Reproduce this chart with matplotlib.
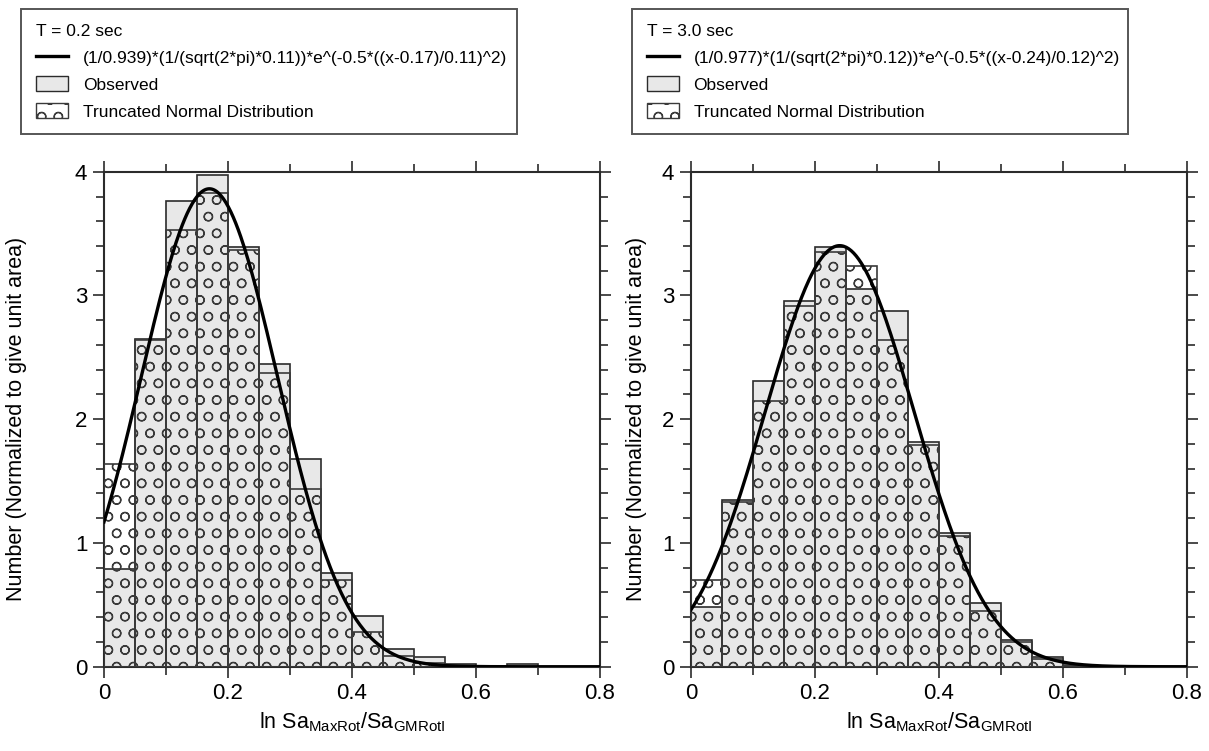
import numpy as np
import matplotlib
matplotlib.use('Agg')
import matplotlib.pyplot as plt
import matplotlib.hatch
from matplotlib.lines import Line2D
from matplotlib.patches import Patch
from matplotlib.ticker import MultipleLocator

# data
bin_edges = np.arange(0, 0.8001, 0.05)

obs_02 = [0.79, 2.65, 3.76, 3.97, 3.39, 2.45, 1.68, 0.755, 0.41, 0.145, 0.076, 0.02, 0.0, 0.02, 0.0, 0.0]
trunc_02 = [1.64, 2.64, 3.53, 3.83, 3.37, 2.37, 1.44, 0.70, 0.28, 0.087, 0.027, 0.006, 0.001, 0.0, 0.0, 0.0]

obs_30 = [0.485, 1.35, 2.31, 2.955, 3.394, 3.05, 2.877, 1.82, 1.083, 0.512, 0.22, 0.076, 0.01, 0.0, 0.0, 0.0]
trunc_30 = [0.70, 1.33, 2.15, 2.915, 3.35, 3.24, 2.64, 1.79, 1.056, 0.453, 0.20, 0.06, 0.015, 0.003, 0.0, 0.0]

# fitted curve parameters (norm, mu, sigma) as given in the legend
fit_02 = (0.939, 0.17, 0.11)
fit_30 = (0.977, 0.24, 0.12)

titles = ['T = 0.2 sec', 'T = 3.0 sec']
fit_labels = ['(1/0.939)*(1/(sqrt(2*pi)*0.11))*e^(-0.5*((x-0.17)/0.11)^2)',
              '(1/0.977)*(1/(sqrt(2*pi)*0.12))*e^(-0.5*((x-0.24)/0.12)^2)']

plt.rcParams['font.family'] = ['Liberation Sans', 'DejaVu Sans']
plt.rcParams['mathtext.default'] = 'regular'
plt.rcParams['hatch.linewidth'] = 0.9
matplotlib.hatch.SmallCircles.size = 0.26  # slightly bigger rings than default 'o'

DARK = '#2b2b2b'
GRAY = '#e8e8e8'

fig = plt.figure(figsize=(12.09, 7.51), dpi=100)
ax1 = fig.add_axes([0.0860, 0.1122, 0.4103, 0.6591])
ax2 = fig.add_axes([0.5715, 0.1122, 0.4100, 0.6591])

# axes, observed, truncated, fit, legend left (fig frac), ylabel x (axes frac)
panels = [(ax1, obs_02, trunc_02, fit_02, 0.0174, -0.155),
          (ax2, obs_30, trunc_30, fit_30, 0.5227, -0.089)]

for i, (ax, obs, trunc, fit, lx, ylx) in enumerate(panels):
    ax.bar(bin_edges[:-1], obs, width=0.05, align='edge', color=GRAY,
           edgecolor=DARK, linewidth=1.2, zorder=2)
    ax.bar(bin_edges[:-1], trunc, width=0.05, align='edge', fill=False,
           hatch='o', edgecolor='#3a3a3a', linewidth=1.2, zorder=3)

    k, mu, sig = fit
    x = np.linspace(0, 0.8, 400)
    y = (1 / k) * (1 / (np.sqrt(2 * np.pi) * sig)) * np.exp(-0.5 * ((x - mu) / sig) ** 2)
    ax.plot(x, y, color='black', linewidth=2.4, zorder=4)

    ax.set_xlim(0, 0.8)
    ax.set_ylim(0, 4)
    ax.xaxis.set_major_locator(MultipleLocator(0.2))
    ax.xaxis.set_minor_locator(MultipleLocator(0.1))
    ax.yaxis.set_major_locator(MultipleLocator(1))
    ax.yaxis.set_minor_locator(MultipleLocator(0.2))
    ax.xaxis.set_major_formatter(plt.FuncFormatter(lambda v, p: '0' if v == 0 else ('%.1f' % v)))
    ax.tick_params(which='both', direction='out', top=True, right=True,
                   width=1.2, color=DARK, labelsize=16)
    ax.tick_params(which='major', length=8, pad=4)
    ax.tick_params(which='minor', length=5.5)
    for s in ax.spines.values():
        s.set_linewidth(1.5)
        s.set_color(DARK)

    ax.set_ylabel('Number (Normalized to give unit area)', fontsize=15.5)
    ax.yaxis.set_label_coords(ylx, 0.5)
    ax.set_xlabel('ln Sa$_{MaxRot}$/Sa$_{GMRotI}$', fontsize=15.5, labelpad=4)

    handles = [Line2D([], [], color='black', linewidth=2.4),
               Patch(facecolor=GRAY, edgecolor=DARK, linewidth=1.0),
               Patch(facecolor='white', edgecolor='#3a3a3a', hatch='o', linewidth=1.0)]
    leg = ax.legend(handles, [fit_labels[i], 'Observed', 'Truncated Normal Distribution'],
                    title=titles[i], title_fontsize=12.5, fontsize=12.5, alignment='left',
                    loc='upper left', bbox_to_anchor=(lx, 0.988, 0.4103, 0.0),
                    bbox_transform=fig.transFigure, mode='expand', fancybox=False,
                    handlelength=1.85, handleheight=0.9, handletextpad=0.85,
                    labelspacing=0.62, borderpad=0.85, borderaxespad=0)
    leg.get_frame().set_edgecolor(DARK)
    leg.get_frame().set_linewidth(1.4)

fig.savefig('out.png', dpi=100)
